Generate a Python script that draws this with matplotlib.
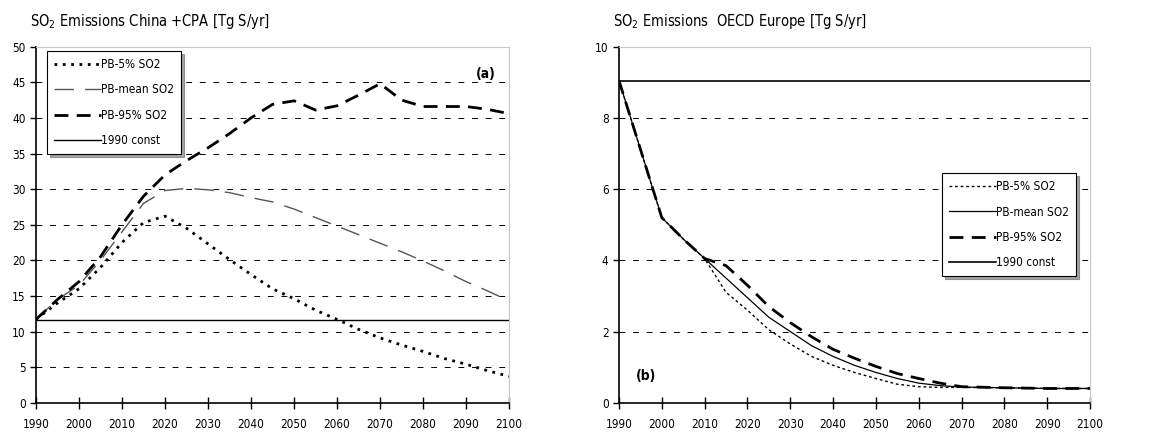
import numpy as np
import matplotlib
matplotlib.use("Agg")
import matplotlib.pyplot as plt

plt.rcParams["font.family"] = ["DejaVu Sans"]
plt.rcParams["font.stretch"] = "condensed"

# ---- panel (a): China + CPA ----
years_a = list(range(1990, 2101, 5))
china_p5 = [11.7, 14.0, 16.0, 19.0, 22.5, 25.3, 26.2, 24.5, 22.3, 20.1, 18.0, 16.0,
            14.6, 13.0, 11.7, 10.3, 9.1, 8.1, 7.2, 6.2, 5.4, 4.5, 3.7]
china_mean = [11.7, 14.5, 16.5, 20.0, 24.0, 28.0, 29.8, 30.1, 29.9, 29.5, 28.8, 28.2,
              27.2, 26.0, 24.8, 23.6, 22.4, 21.2, 19.9, 18.5, 17.0, 15.7, 14.3]
china_p95 = [11.7, 14.5, 17.0, 20.5, 25.0, 29.0, 32.0, 34.0, 35.8, 37.8, 40.0, 41.9,
             42.4, 41.1, 41.7, 43.2, 44.8, 42.5, 41.6, 41.6, 41.6, 41.2, 40.6]
china_1990 = 11.6

# ---- panel (b): OECD Europe ----
years_b = [1990, 2000, 2005, 2010, 2015, 2020, 2025, 2030, 2035, 2040, 2045, 2050,
           2055, 2060, 2065, 2070, 2080, 2090, 2100]
eu_p5 = [9.05, 5.2, 4.6, 4.05, 3.1, 2.6, 2.05, 1.65, 1.3, 1.05, 0.85, 0.68,
         0.52, 0.45, 0.43, 0.43, 0.42, 0.4, 0.4]
eu_mean = [9.05, 5.2, 4.6, 4.05, 3.5, 2.95, 2.4, 2.0, 1.6, 1.3, 1.05, 0.85,
           0.68, 0.55, 0.48, 0.44, 0.42, 0.4, 0.4]
eu_p95 = [9.05, 5.2, 4.6, 4.05, 3.85, 3.3, 2.7, 2.25, 1.85, 1.5, 1.25, 1.02,
          0.82, 0.68, 0.55, 0.45, 0.42, 0.4, 0.4]
eu_1990 = 9.05

xticks = list(range(1990, 2101, 10))

fig = plt.figure(figsize=(11.65, 4.32), dpi=100)
ax1 = fig.add_axes([0.0309, 0.0678, 0.4061, 0.8241])
ax2 = fig.add_axes([0.5313, 0.0678, 0.4043, 0.8241])


def style_axis(ax, ymax, ystep):
    ax.set_xlim(1990, 2100)
    ax.set_ylim(0, ymax)
    ax.set_xticks(xticks)
    ax.set_yticks(np.arange(0, ymax + 0.01, ystep))
    for y in np.arange(ystep, ymax, ystep):
        ax.axhline(y, color="black", lw=0.7, ls=(0, (6, 8)), zorder=0)
    for s in ["top", "right"]:
        ax.spines[s].set_color("#c8c8c8")
        ax.spines[s].set_linewidth(0.8)
    ax.spines["left"].set_linewidth(1.2)
    ax.spines["bottom"].set_linewidth(1.2)
    ax.tick_params(axis="x", direction="inout", length=8, width=1, labelsize=8.5, pad=7)
    ax.tick_params(axis="y", direction="out", length=4, width=1, labelsize=8.5)


def add_legend(ax, anchor):
    leg = ax.legend(loc="upper left", bbox_to_anchor=anchor, fontsize=8.5,
                    fancybox=False, edgecolor="black", framealpha=1, shadow=True,
                    handlelength=4.0, labelspacing=1.05, handletextpad=0.0,
                    borderpad=0.6, borderaxespad=0)
    leg.get_frame().set_linewidth(0.8)
    return leg


# panel (a)
ax1.plot(years_a, china_p5, color="black", lw=2, ls=(0, (1, 2)), label="PB-5% SO2")
ax1.plot(years_a, china_mean, color="#555555", lw=1, ls=(0, (14, 8)), label="PB-mean SO2")
ax1.plot(years_a, china_p95, color="black", lw=2, ls=(0, (5, 3)), label="PB-95% SO2")
ax1.plot([1990, 2100], [china_1990, china_1990], color="black", lw=1, label="1990 const")
style_axis(ax1, 50, 5)
ax1.text(2097, 45.2, "(a)", fontsize=10, fontweight="bold", ha="right", va="bottom")
ax1.text(-0.012, 1.045, r"SO$_2$ Emissions China +CPA [Tg S/yr]", transform=ax1.transAxes,
         fontsize=10.5, ha="left", va="bottom")
add_legend(ax1, (0.023, 0.988))

# panel (b)
ax2.plot(years_b, eu_p5, color="black", lw=1, ls=(0, (2, 2)), label="PB-5% SO2")
ax2.plot(years_b, eu_mean, color="black", lw=0.9, label="PB-mean SO2")
ax2.plot(years_b, eu_p95, color="black", lw=2, ls=(0, (5, 3)), label="PB-95% SO2")
ax2.plot([1990, 2100], [eu_1990, eu_1990], color="black", lw=1.2, label="1990 const")
style_axis(ax2, 10, 2)
ax2.text(1994, 0.55, "(b)", fontsize=10, fontweight="bold", ha="left", va="bottom")
ax2.text(-0.012, 1.045, r"SO$_2$ Emissions  OECD Europe [Tg S/yr]", transform=ax2.transAxes,
         fontsize=10.5, ha="left", va="bottom")
add_legend(ax2, (0.686, 0.645))

fig.savefig("out.png", dpi=100)
